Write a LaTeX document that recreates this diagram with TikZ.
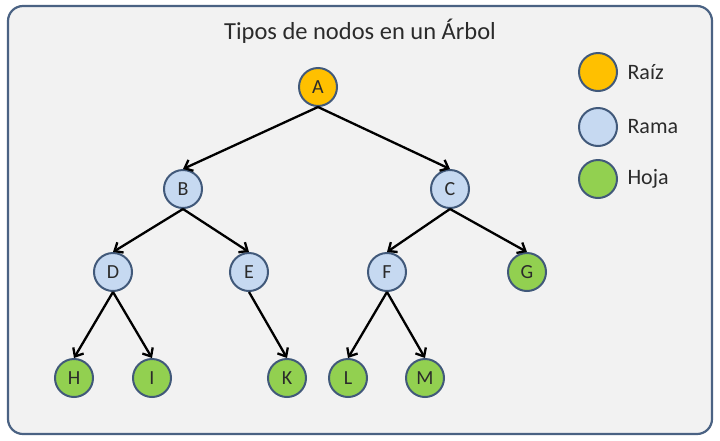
\documentclass[tikz,border=0pt]{standalone}
\usepackage{fontspec}
\setmainfont{Carlito}
\usetikzlibrary{arrows.meta}
\definecolor{frameline}{HTML}{4A6283}
\definecolor{nodeline}{HTML}{41597A}
\definecolor{raiz}{HTML}{FFC000}
\definecolor{rama}{HTML}{C6D9F1}
\definecolor{hoja}{HTML}{92D050}
\definecolor{panel}{HTML}{F2F2F2}
\definecolor{ink}{HTML}{2B2B2B}
\begin{document}
\begin{tikzpicture}[x=1pt, y=-1pt,
        tnode/.style={draw=nodeline, line width=2pt, circle, minimum size=38pt, inner sep=0pt, text=ink, font=\fontsize{20}{20}\selectfont},
        edge/.style={-{Straight Barb[length=7pt,width=12pt]}, line width=2.3pt}]
        \useasboundingbox (0,0) rectangle (720,440);
        % frame
        \draw[rounded corners=15pt, line width=2.2pt, draw=frameline, fill=panel] (8,6) rectangle (712,434);
        \node (title) [text=ink] at (360,31) {\fontsize{24.5}{24.5}\selectfont Tipos de nodos en un Árbol};

        % nodes
        \node (A) [tnode, fill=raiz] at (318,87) {A};
        \node (B) [tnode, fill=rama] at (183,189) {B};
        \node (C) [tnode, fill=rama] at (450,189) {C};
        \node (D) [tnode, fill=rama] at (113,272) {D};
        \node (E) [tnode, fill=rama] at (249,272) {E};
        \node (F) [tnode, fill=rama] at (387,272) {F};
        \node (G) [tnode, fill=hoja] at (527,272) {G};
        \node (H) [tnode, fill=hoja] at (74,378) {H};
        \node (I) [tnode, fill=hoja] at (152,378) {I};
        \node (K) [tnode, fill=hoja] at (287,378) {K};
        \node (L) [tnode, fill=hoja] at (348,378) {L};
        \node (M) [tnode, fill=hoja] at (425,378) {M};

        % edges
        \draw[edge] (A.south) -- (B.north);
        \draw[edge] (A.south) -- (C.north);
        \draw[edge] (B.south) -- (D.north);
        \draw[edge] (B.south) -- (E.north);
        \draw[edge] (C.south) -- (F.north);
        \draw[edge] (C.south) -- (G.north);
        \draw[edge] (D.south) -- (H.north);
        \draw[edge] (D.south) -- (I.north);
        \draw[edge] (E.south) -- (K.north);
        \draw[edge] (F.south) -- (L.north);
        \draw[edge] (F.south) -- (M.north);

        % legend
        \node (raizkey) [tnode, fill=raiz] at (598,72) {};
        \node (ramakey) [tnode, fill=rama] at (598,127) {};
        \node (hojakey) [tnode, fill=hoja] at (598,179) {};
        \node (raiztext) [anchor=west, text=ink, font=\fontsize{22}{22}\selectfont] at (624,72) {Raíz};
        \node (ramatext) [anchor=west, text=ink, font=\fontsize{22}{22}\selectfont] at (624,127) {Rama};
        \node (hojatext) [anchor=west, text=ink, font=\fontsize{22}{22}\selectfont] at (624,179) {Hoja};
    \end{tikzpicture}
\end{document}
